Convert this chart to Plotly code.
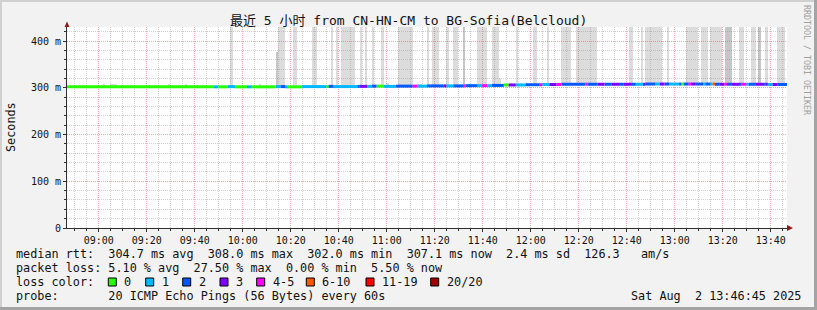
import plotly.graph_objects as go

# ---------------- data ----------------
title_text = "最近 5 小时 from CN-HN-CM to BG-Sofia(Belcloud)"
start_min = 8 * 60 + 46.75          # 08:46:45, graph start (minutes of day)
span_min = 300                       # 5 hours

x_tick_vals = [540, 560, 580, 600, 620, 640, 660, 680, 700, 720, 740, 760, 780, 800, 820]
x_tick_text = ["09:00", "09:20", "09:40", "10:00", "10:20", "10:40", "11:00", "11:20",
               "11:40", "12:00", "12:20", "12:40", "13:00", "13:20", "13:40"]
y_tick_vals = [0, 100, 200, 300, 400]
y_tick_text = ["0", "100 m", "200 m", "300 m", "400 m"]

loss_labels = ["0", "1", "2", "3", "4-5", "6-10", "11-19", "20/20"]
loss_colors = ["#26ff00", "#00b8ff", "#0059ff", "#7e00ff", "#ff00ff", "#ff5500", "#ff0000", "#a10000"]

# median rtt segments: end minute (from start), loss class, median (ms)
seg_end = [61, 63, 67, 70, 75, 77, 87, 89, 91, 92, 98, 108, 109, 111, 121, 122, 125, 127, 129, 132,
           137, 144, 146, 150, 157, 158, 161, 165, 166, 171, 173, 175, 177, 182, 184, 187, 191, 197,
           198, 201, 204, 206, 216, 217, 221, 224, 227, 230, 232, 235, 237, 240, 241, 245, 247, 249,
           251, 255, 256, 257, 259, 260, 262, 265, 266, 268, 269, 270, 272, 274, 275, 277, 280, 281,
           283, 284, 287, 290, 291, 292, 294, 296, 300]
seg_loss = [0, 1, 0, 1, 0, 1, 0, 1, 2, 1, 0, 1, 0, 2, 1, 2, 3, 1, 2, 0,
            1, 2, 4, 1, 2, 3, 1, 2, 4, 2, 1, 4, 1, 2, 0, 3, 1, 2,
            4, 1, 3, 4, 2, 4, 2, 3, 2, 3, 2, 3, 2, 1, 3, 2, 1, 3,
            2, 1, 2, 0, 2, 4, 3, 2, 1, 2, 1, 5, 2, 3, 4, 2, 3, 2,
            4, 1, 2, 3, 2, 3, 1, 3, 2]
seg_median = [302.0, 302.0, 302.0, 302.5, 302.0, 302.0, 302.0, 302.5, 302.5, 302.0, 302.0, 302.5, 302.5,
              303.0, 302.5, 303.0, 303.0, 303.0, 303.5, 303.5, 303.0, 303.5, 303.5, 303.5, 304.0, 304.0,
              304.0, 304.0, 304.0, 304.5, 304.5, 304.5, 304.5, 305.0, 306.0, 306.0, 306.0, 306.5, 306.5,
              307.0, 307.0, 307.0, 307.5, 307.5, 307.5, 307.5, 307.5, 307.5, 307.5, 307.5, 307.5, 307.5,
              307.5, 308.0, 308.0, 308.0, 308.0, 308.0, 308.0, 308.0, 308.0, 308.0, 308.0, 308.0, 308.0,
              308.0, 308.0, 308.0, 307.5, 307.5, 307.5, 307.5, 307.5, 307.5, 307.5, 307.5, 307.5, 307.5,
              307.5, 307.5, 307.0, 307.0, 307.1]

# smoke (ping spread) columns: start minute, length (min), top (ms), dark shade flag
smoke_start = [68, 87, 88, 94, 102, 110, 112, 114, 122, 124, 127, 131, 138, 150, 152, 158, 161, 165,
               171, 177, 187, 194, 200, 206, 212, 234, 239, 241, 250, 258, 264, 268, 274, 280, 285,
               288, 291, 296,
               15, 18, 42, 49, 80, 133, 146, 180, 225, 293]
smoke_len = [1, 1, 3, 2, 2, 1, 1, 6, 1, 1, 1, 1, 6, 1, 3, 1, 2, 1,
             4, 3, 1, 2, 1, 4, 9, 2, 1, 7, 1, 5, 3, 5, 3, 2, 2,
             1, 1, 3,
             1, 3, 1, 1, 1, 1, 2, 1, 1, 1]
smoke_top = [440, 377, 440, 440, 440, 440, 440, 440, 440, 440, 440, 440, 440, 440, 440, 440, 440, 440,
             440, 440, 440, 440, 440, 440, 440, 440, 440, 440, 440, 440, 440, 440, 440, 440, 440,
             440, 440, 440,
             308, 308, 308, 308, 308, 310, 309, 320, 311, 311]
smoke_dark = [0, 1, 0, 0, 0, 0, 0, 0, 0, 0, 0, 0, 0, 0, 0, 0, 0, 1,
              0, 0, 0, 0, 0, 0, 0, 0, 0, 0, 0, 0, 0, 0, 1, 0, 0,
              1, 0, 0,
              0, 0, 0, 0, 0, 0, 0, 0, 0, 0]

stats_lines = [
    "median rtt:  304.7 ms avg  308.0 ms max  302.0 ms min  307.1 ms now  2.4 ms sd  126.3   am/s",
    "packet loss: 5.10 % avg  27.50 % max  0.00 % min  5.50 % now",
]
probe_text = "probe:       20 ICMP Echo Pings (56 Bytes) every 60s"
date_text = "Sat Aug  2 13:46:45 2025"
watermark = "RRDTOOL / TOBI OETIKER"

# ---------------- geometry ----------------
W, H = 817, 310
ML, MR, MT, MB = 67, 30, 27, 82
PW, PH = W - ML - MR, H - MT - MB
YMAX = 430
MONO = "DejaVu Sans Mono, Noto Sans CJK SC, monospace"


def ax(px):
    return (px - ML) / PW


def ay(py):
    return (H - MB - py) / PH


def nb(s):
    return s.replace(" ", "\u00a0")


def median_at(m):
    prev = 0
    for e, v in zip(seg_end, seg_median):
        if prev <= m < e:
            return v
        prev = e
    return seg_median[-1]


fig = go.Figure()

# smoke columns
for dark, col in [(0, "rgba(140,140,140,0.30)"), (1, "rgba(120,120,120,0.42)")]:
    xs, ws, bs, hs = [], [], [], []
    for s, ln, tp, dk in zip(smoke_start, smoke_len, smoke_top, smoke_dark):
        if dk != dark:
            continue
        base = median_at(s) - 1
        xs.append(start_min + s + ln / 2)
        ws.append(ln)
        bs.append(base)
        hs.append(tp - base)
    fig.add_trace(go.Bar(x=xs, y=hs, base=bs, width=ws, marker=dict(color=col, line=dict(width=0)),
                         hoverinfo="skip"))

# median line, coloured by loss
for ci, col in enumerate(loss_colors):
    xs, ys = [], []
    prev = 0
    for e, c, v in zip(seg_end, seg_loss, seg_median):
        if c == ci:
            xs += [start_min + prev, start_min + e, None]
            ys += [v, v, None]
        prev = e
    if xs:
        fig.add_trace(go.Scatter(x=xs, y=ys, mode="lines", line=dict(color=col, width=3),
                                 hoverinfo="skip", connectgaps=False))

grid_major = "#e8a8a8"
grid_minor = "#d0d0d0"

fig.update_xaxes(range=[start_min, start_min + span_min], tickmode="array", tickvals=x_tick_vals,
                 ticktext=x_tick_text, showgrid=True, gridcolor=grid_major, griddash="1px,1px",
                 gridwidth=1, zeroline=False, showline=True, linecolor="#303030", linewidth=1,
                 ticks="outside", ticklen=3, tickcolor="#303030",
                 tickfont=dict(family=MONO, size=10, color="#111"),
                 minor=dict(tickmode="linear", tick0=540, dtick=5, showgrid=True, gridcolor=grid_minor,
                            griddash="1px,1px", gridwidth=1, ticks="outside", ticklen=2,
                            tickcolor="#303030"))
fig.update_yaxes(range=[0, YMAX], tickmode="array", tickvals=y_tick_vals, ticktext=y_tick_text,
                 showgrid=True, gridcolor=grid_major, griddash="1px,1px", gridwidth=1, zeroline=False,
                 showline=True, linecolor="#303030", linewidth=1, ticks="outside", ticklen=3,
                 tickcolor="#303030", tickfont=dict(family=MONO, size=10, color="#111"),
                 minor=dict(tickmode="linear", tick0=0, dtick=20, showgrid=True, gridcolor=grid_minor,
                            griddash="1px,1px", gridwidth=1, ticks="outside", ticklen=2,
                            tickcolor="#303030"))

ann = []
ann.append(dict(text=nb(title_text), x=ax(408), y=ay(21), xanchor="center", yanchor="middle",
                font=dict(family=MONO, size=13, color="#111")))
ann.append(dict(text="Seconds", x=ax(11), y=ay(127), xanchor="center", yanchor="middle", textangle=-90,
                font=dict(family=MONO, size=11.8, color="#111")))
ann.append(dict(text=nb(watermark), x=ax(807), y=ay(60), xanchor="center", yanchor="middle", textangle=90,
                font=dict(family=MONO, size=8.3, color="#a0a0a0")))
for i, line in enumerate(stats_lines):
    ann.append(dict(text=nb(line), x=ax(16), y=ay(254 + 14 * i), xanchor="left", yanchor="middle",
                    font=dict(family=MONO, size=11.8, color="#111")))
ann.append(dict(text=nb("loss color:"), x=ax(16), y=ay(282), xanchor="left", yanchor="middle",
                font=dict(family=MONO, size=11.8, color="#111")))
ann.append(dict(text=nb(probe_text), x=ax(16), y=ay(296), xanchor="left", yanchor="middle",
                font=dict(family=MONO, size=11.8, color="#111")))
ann.append(dict(text=nb(date_text), x=ax(801), y=ay(296), xanchor="right", yanchor="middle",
                font=dict(family=MONO, size=11.8, color="#111")))

box_left = [108.3, 145.7, 182.7, 220, 256.7, 306.3, 366, 430.7]
shapes = []
for bx, lab, col in zip(box_left, loss_labels, loss_colors):
    shapes.append(dict(type="rect", xref="paper", yref="paper", x0=ax(bx), x1=ax(bx + 8),
                       y0=ay(286), y1=ay(278), fillcolor=col, line=dict(color="#000", width=1)))
    ann.append(dict(text=nb(lab), x=ax(bx + 16), y=ay(282), xanchor="left", yanchor="middle",
                    font=dict(family=MONO, size=11.8, color="#111")))

for a in ann:
    a.update(xref="paper", yref="paper", showarrow=False, borderpad=0, borderwidth=0)

# axis arrows
arrow_col = "#8b1a1a"
shapes.append(dict(type="path", xref="paper", yref="paper",
                   path=f"M {ax(64.5)},{ay(27)} L {ax(69.5)},{ay(27)} L {ax(67)},{ay(21.5)} Z",
                   fillcolor=arrow_col, line=dict(width=0)))
shapes.append(dict(type="path", xref="paper", yref="paper",
                   path=f"M {ax(787)},{ay(225)} L {ax(787)},{ay(231)} L {ax(793)},{ay(228)} Z",
                   fillcolor=arrow_col, line=dict(width=0)))
# frame shading
for x0, x1, y0, y1, c in [(0, W, 0, 2, "#d0d0d0"), (0, 2, 0, H, "#d0d0d0"),
                          (0, W, H - 3, H, "#a4a4a4"), (W - 3, W, 0, H, "#a4a4a4")]:
    shapes.append(dict(type="rect", xref="paper", yref="paper", x0=ax(x0), x1=ax(x1), y0=ay(y1), y1=ay(y0),
                       fillcolor=c, line=dict(width=0)))

fig.update_layout(width=W, height=H, autosize=False, margin=dict(l=ML, r=MR, t=MT, b=MB, pad=0),
                  paper_bgcolor="#f2f2f2", plot_bgcolor="#ffffff", showlegend=False,
                  barmode="overlay", bargap=0, annotations=ann, shapes=shapes)

fig.write_html("out.html")
